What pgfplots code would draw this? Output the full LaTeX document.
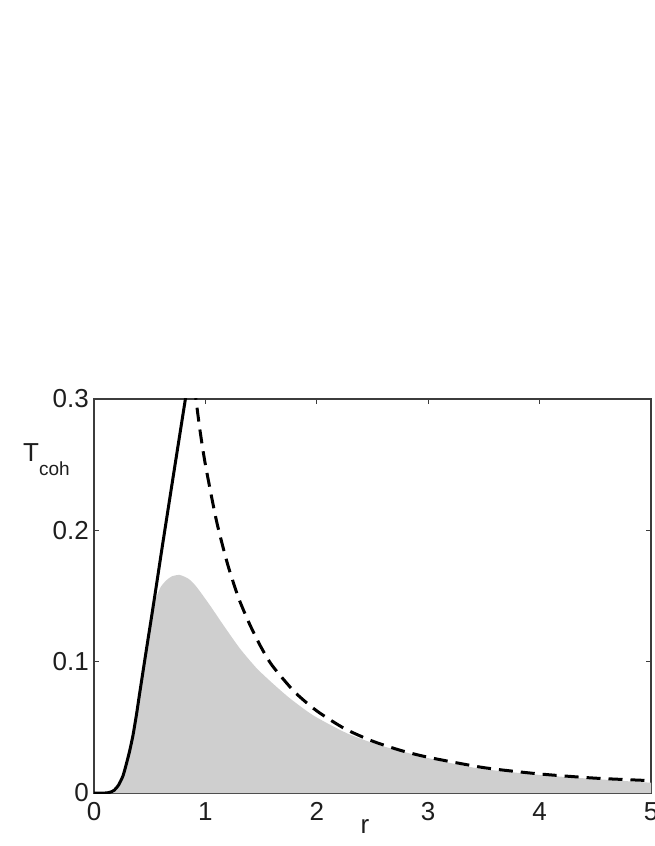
\documentclass[border=0pt]{standalone}
\usepackage{pgfplots}
\pgfplotsset{compat=1.18}
\usepackage{fontspec}
\setmainfont{Liberation Sans}
\definecolor{fillgray}{RGB}{207,207,207}
\definecolor{axgray}{RGB}{60,60,60}
\definecolor{txt}{RGB}{30,30,30}
\begin{document}
\begin{tikzpicture}
\path[use as bounding box] (-94pt,-53pt) rectangle (560pt,793pt);
\begin{axis}[
  at={(0pt,0pt)}, anchor=south west,
  width=557pt, height=394pt, scale only axis,
  xmin=0, xmax=5, ymin=0, ymax=0.3,
  xtick={0,1,2,3,4,5},
  ytick={0,0.1,0.2,0.3},
  scaled y ticks=false,
  yticklabel style={/pgf/number format/fixed, /pgf/number format/precision=1},
  /pgf/number format/assume math mode=true,
  tick align=inside,
  tick pos=both,
  major tick length=5pt,
  every tick/.style={axgray, line width=1pt},
  axis line style={axgray, line width=1.3pt},
  ticklabel style={font=\fontsize{26}{26}\selectfont, text=txt},
  xticklabel style={anchor=north, inner sep=0pt, yshift=-9pt},
  yticklabel style={anchor=east, inner sep=0pt, xshift=-5pt},
  clip=true,
]
% gray area
\addplot[fill=fillgray, draw=none, smooth, tension=0.4] table {
x y
0.10 0
0.14 0.0005
0.18 0.002
0.22 0.006
0.26 0.012
0.30 0.025
0.35 0.042
0.40 0.068
0.45 0.095
0.48 0.113
0.52 0.134
0.56 0.149
0.60 0.157
0.65 0.162
0.70 0.165
0.77 0.166
0.85 0.163
0.92 0.157
1.04 0.143
1.16 0.128
1.31 0.110
1.46 0.095
1.61 0.083
1.76 0.072
1.97 0.059
2.27 0.0455
2.57 0.0362
3.02 0.0262
3.46 0.0186
4.06 0.0133
4.66 0.0097
5.00 0.0078
} \closedcycle;
% solid line
\addplot[black, line width=3pt, smooth, tension=0.4] table {
x y
0.00 0
0.10 0
0.14 0.0005
0.18 0.002
0.22 0.006
0.26 0.013
0.29 0.022
0.32 0.032
0.35 0.044
0.38 0.059
0.41 0.076
0.47 0.109
0.52 0.136
0.56 0.158
0.61 0.186
0.70 0.235
0.80 0.289
0.83 0.305
};
% dashed line
\addplot[black, line width=3pt, dash pattern=on 14pt off 8pt, smooth, tension=0.4] table {
x y
0.90 0.310
0.95 0.277
1.00 0.250
1.10 0.207
1.20 0.174
1.30 0.148
1.40 0.128
1.50 0.111
1.60 0.097
1.80 0.077
2.00 0.0625
2.25 0.049
2.50 0.0395
2.75 0.0325
3.00 0.0272
3.50 0.0193
4.00 0.0145
4.50 0.0113
5.00 0.0094
};
\end{axis}
\node[anchor=base, inner sep=0pt, font=\fontsize{26}{26}\selectfont, text=txt] at (271pt,-40pt) {r};
\node[anchor=base west, inner sep=0pt, font=\fontsize{26}{26}\selectfont, text=txt] at (-71pt,331pt) {T\raisebox{-14pt}{\fontsize{19}{19}\selectfont coh}};
\end{tikzpicture}
\end{document}
